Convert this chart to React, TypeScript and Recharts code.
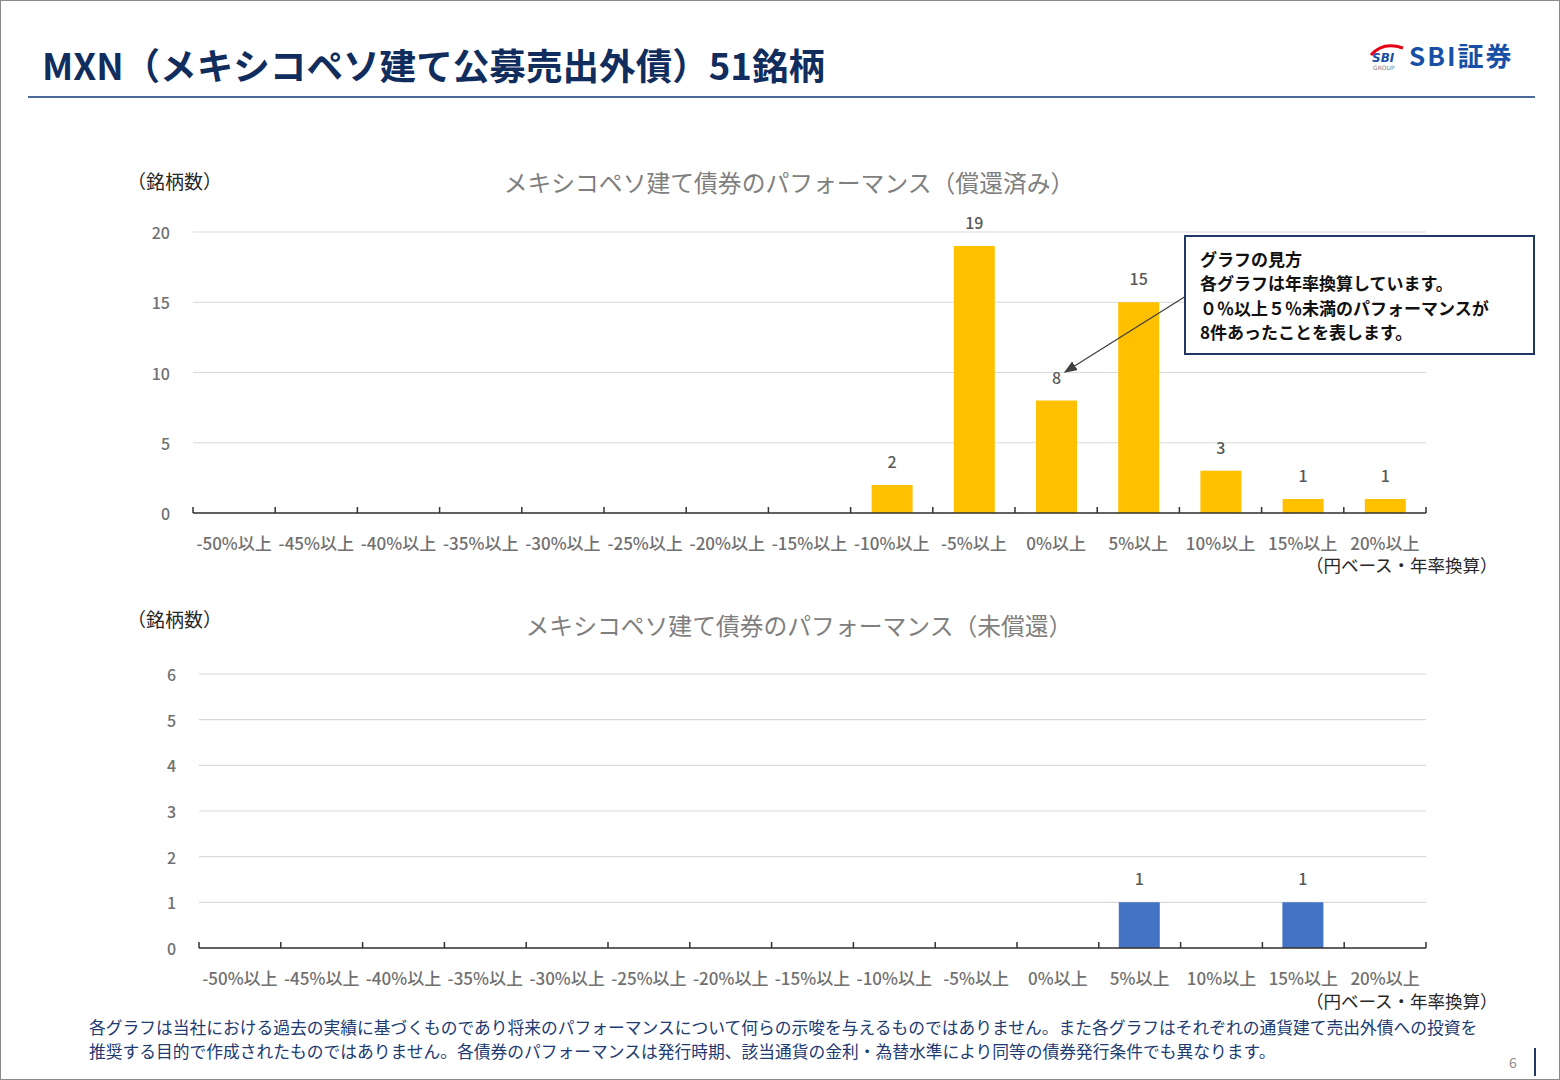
import React from "react"
import { BarChart, Bar, XAxis, YAxis, CartesianGrid, LabelList } from "recharts"

// return bands (yen based, annualised)
const bins = [
  "-50%以上", "-45%以上", "-40%以上", "-35%以上", "-30%以上", "-25%以上", "-20%以上", "-15%以上",
  "-10%以上", "-5%以上", "0%以上", "5%以上", "10%以上", "15%以上", "20%以上",
]
const redeemedCounts = [0, 0, 0, 0, 0, 0, 0, 0, 2, 19, 8, 15, 3, 1, 1]
const outstandingCounts = [0, 0, 0, 0, 0, 0, 0, 0, 0, 0, 0, 1, 0, 1, 0]
const redeemedTicks = [0, 5, 10, 15, 20]
const outstandingTicks = [0, 1, 2, 3, 4, 5, 6]

const redeemedData = bins.map((name, i) => ({ name, value: redeemedCounts[i] }))
const outstandingData = bins.map((name, i) => ({ name, value: outstandingCounts[i] }))

const FONT = "'Noto Sans CJK JP', 'Noto Sans', sans-serif"
const NAVY = "#1f3864"
const PAGE_W = 1560
const X_AXIS_H = 48

const renderValueLabel = (props: any) => {
  const { x, y, width, value } = props
  if (!value) return null
  return (
    <text
      x={x + width / 2}
      y={y - 24}
      textAnchor="middle"
      dominantBaseline="central"
      fill="#595959"
      fontSize={16}
      fontWeight={500}
      fontFamily={FONT}
    >
      {value}
    </text>
  )
}

interface HistProps {
  top: number
  plotTop: number
  plotBottom: number
  plotLeft: number
  plotRight: number
  data: Array<{ name: string; value: number }>
  ticks: number[]
  color: string
}

const Histogram: React.FC<HistProps> = ({ top, plotTop, plotBottom, plotLeft, plotRight, data, ticks, color }) => {
  const height = plotBottom - top + X_AXIS_H
  const axisY = plotBottom - top
  const band = (plotRight - plotLeft) / data.length

  const xTick = (props: any) => {
    const { x, payload, index } = props
    const last = index === data.length - 1
    return (
      <g>
        <line x1={x - band / 2} x2={x - band / 2} y1={axisY} y2={axisY - 6} stroke="#333" strokeWidth={1.5} />
        {last && <line x1={x + band / 2} x2={x + band / 2} y1={axisY} y2={axisY - 6} stroke="#333" strokeWidth={1.5} />}
        <text
          x={x}
          y={axisY + 29}
          textAnchor="middle"
          dominantBaseline="central"
          fill="#707070"
          fontSize={17}
          fontWeight={500}
          fontFamily={FONT}
        >
          {payload.value}
        </text>
      </g>
    )
  }

  const yTick = (props: any) => {
    const { y, payload } = props
    return (
      <text
        x={plotLeft - 23}
        y={y}
        textAnchor="end"
        dominantBaseline="central"
        fill="#707070"
        fontSize={16}
        fontWeight={500}
        fontFamily={FONT}
      >
        {payload.value}
      </text>
    )
  }

  return (
    <div style={{ position: "absolute", left: 0, top }}>
      <BarChart
        width={PAGE_W}
        height={height}
        data={data}
        margin={{ top: plotTop - top, right: PAGE_W - plotRight, bottom: 0, left: plotLeft - 60 }}
      >
        <CartesianGrid vertical={false} stroke="#d9d9d9" strokeWidth={1.2} />
        <XAxis
          dataKey="name"
          height={X_AXIS_H}
          tickLine={false}
          axisLine={{ stroke: "#333", strokeWidth: 1.5 }}
          tick={xTick}
          interval={0}
        />
        <YAxis
          width={60}
          domain={[0, ticks[ticks.length - 1]]}
          ticks={ticks}
          axisLine={false}
          tickLine={false}
          tick={yTick}
        />
        <Bar dataKey="value" fill={color} barSize={41} isAnimationActive={false}>
          <LabelList dataKey="value" content={renderValueLabel} />
        </Bar>
      </BarChart>
    </div>
  )
}

const abs = (left: number, top: number, extra: React.CSSProperties = {}): React.CSSProperties => ({
  position: "absolute",
  left,
  top,
  whiteSpace: "nowrap",
  fontFamily: FONT,
  ...extra,
})

const App: React.FC = () => {
  return (
    <div
      style={{
        position: "absolute",
        left: 0,
        top: 0,
        width: PAGE_W,
        height: 1080,
        background: "#fff",
        border: "1px solid #8a8a8a",
        boxSizing: "border-box",
        overflow: "hidden",
        fontFamily: FONT,
      }}
    >
      {/* page heading */}
      <div style={abs(41, 39, { fontSize: 36.6, fontWeight: 700, color: "#102d5e", lineHeight: "50px" })}>
        MXN（メキシコペソ建て公募売出外債）51銘柄
      </div>
      <div style={{ position: "absolute", left: 27, top: 95, width: 1507, height: 2, background: "#4d6b98" }} />

      {/* logo */}
      <svg style={{ position: "absolute", left: 1366, top: 36 }} width={180} height={44}>
        <path d="M4 18 Q16 4 36 11" stroke="#e60012" strokeWidth={3} fill="none" />
        <text x={5} y={25} fontSize={12} fontWeight={700} fontStyle="italic" fill="#1750a5" fontFamily="'DejaVu Sans', sans-serif">
          SBI
        </text>
        <text x={6} y={33} fontSize={6} fill="#777" fontFamily="'DejaVu Sans', sans-serif">
          GROUP
        </text>
        <text x={42} y={29} fontSize={26} fontWeight={700} fill="#1750a5" fontFamily={FONT} letterSpacing={2}>
          SBI証券
        </text>
      </svg>

      {/* redeemed chart */}
      <div style={abs(126, 167, { fontSize: 19, color: "#262626", lineHeight: "26px" })}>（銘柄数）</div>
      <div style={abs(388, 164, { width: 800, textAlign: "center", fontSize: 23.8, color: "#7f7f7f", lineHeight: "34px" })}>
        メキシコペソ建て債券のパフォーマンス（償還済み）
      </div>
      <Histogram
        top={200}
        plotTop={231}
        plotBottom={512}
        plotLeft={192}
        plotRight={1425}
        data={redeemedData}
        ticks={redeemedTicks}
        color="#ffc000"
      />
      <div style={abs(1305, 552, { fontSize: 17.5, color: "#262626", lineHeight: "24px" })}>（円ベース・年率換算）</div>

      {/* how to read note */}
      <svg style={{ position: "absolute", left: 0, top: 0 }} width={PAGE_W} height={600}>
        <defs>
          <marker id="arrowHead" markerWidth={10} markerHeight={8} refX={9} refY={4} orient="auto">
            <path d="M0 0 L10 4 L0 8 Z" fill="#404040" />
          </marker>
        </defs>
        <line x1={1185} y1={295} x2={1064} y2={371} stroke="#404040" strokeWidth={1.3} markerEnd="url(#arrowHead)" />
      </svg>
      <div
        style={{
          position: "absolute",
          left: 1183,
          top: 234,
          width: 351,
          height: 120,
          border: `2px solid ${NAVY}`,
          boxSizing: "border-box",
          background: "#fff",
          padding: "10px 0 0 14px",
          fontSize: 17,
          fontWeight: 700,
          color: "#111",
          lineHeight: "24.3px",
        }}
      >
        <div>グラフの見方</div>
        <div>各グラフは年率換算しています。</div>
        <div>０％以上５％未満のパフォーマンスが</div>
        <div>8件あったことを表します。</div>
      </div>

      {/* outstanding chart */}
      <div style={abs(126, 605, { fontSize: 19, color: "#262626", lineHeight: "26px" })}>（銘柄数）</div>
      <div style={abs(398, 607, { width: 800, textAlign: "center", fontSize: 23.8, color: "#7f7f7f", lineHeight: "34px" })}>
        メキシコペソ建て債券のパフォーマンス（未償還）
      </div>
      <Histogram
        top={640}
        plotTop={673}
        plotBottom={947}
        plotLeft={198}
        plotRight={1425}
        data={outstandingData}
        ticks={outstandingTicks}
        color="#4472c4"
      />
      <div style={abs(1305, 988, { fontSize: 17.5, color: "#262626", lineHeight: "24px" })}>（円ベース・年率換算）</div>

      {/* disclaimer */}
      <div style={abs(88, 1014, { fontSize: 16.75, color: "#203a72", lineHeight: "24px" })}>
        <div>各グラフは当社における過去の実績に基づくものであり将来のパフォーマンスについて何らの示唆を与えるものではありません。また各グラフはそれぞれの通貨建て売出外債への投資を</div>
        <div>推奨する目的で作成されたものではありません。各債券のパフォーマンスは発行時期、該当通貨の金利・為替水準により同等の債券発行条件でも異なります。</div>
      </div>
      <div style={abs(1508, 1051, { fontSize: 14, color: "#8c8c8c", lineHeight: "20px" })}>6</div>
      <div style={{ position: "absolute", left: 1533, top: 1047, width: 2, height: 28, background: NAVY }} />
    </div>
  )
}

export default App
